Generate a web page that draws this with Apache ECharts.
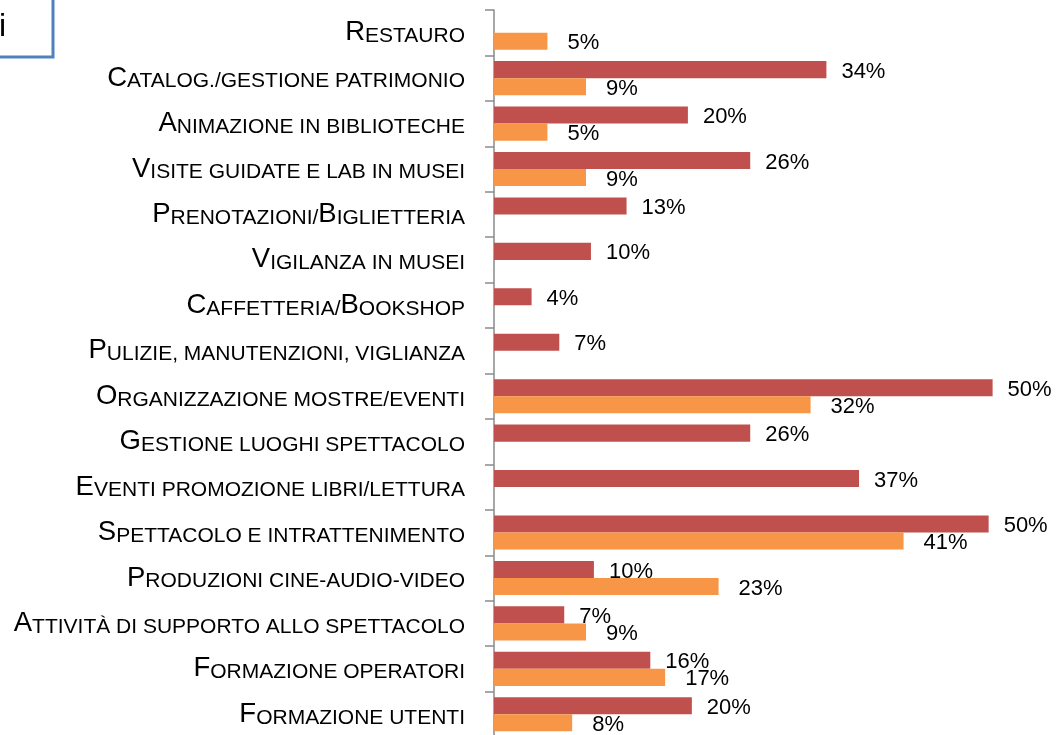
<!DOCTYPE html>
<html>
<head>
<meta charset="utf-8">
<script src="https://cdn.jsdelivr.net/npm/echarts@6/dist/echarts.min.js"></script>
<style>
  html, body { margin: 0; padding: 0; background: #fff; }
  #chart { width: 1057px; height: 735px; }
</style>
</head>
<body>
<div id="chart"></div>
<script>
// categories, top to bottom
const categories = [
  "Restauro",
  "Catalog./gestione patrimonio",
  "Animazione in biblioteche",
  "Visite guidate e lab in musei",
  "Prenotazioni/Biglietteria",
  "Vigilanza in musei",
  "Caffetteria/Bookshop",
  "Pulizie, manutenzioni, viglianza",
  "Organizzazione mostre/eventi",
  "Gestione luoghi spettacolo",
  "Eventi promozione libri/lettura",
  "Spettacolo e intrattenimento",
  "Produzioni cine-audio-video",
  "Attività di supporto allo spettacolo",
  "Formazione operatori",
  "Formazione utenti"
];

// percentages (labels show them rounded)
const redValues = [null, 33.6, 19.6, 25.9, 13.4, 9.8, 3.8, 6.6, 50.4, 25.9, 36.9, 50.0, 10.1, 7.1, 15.8, 20.0];
const orangeValues = [5.4, 9.3, 5.4, 9.3, null, null, null, null, 32.0, null, null, 41.4, 22.7, 9.3, 17.3, 7.9];

const font = "'Liberation Sans', Arial, sans-serif";

// fake small caps: capitals big, lowercase letters as smaller capitals
function smallCaps(txt) {
  let out = "";
  let cur = null;
  let buf = "";
  for (const ch of txt) {
    const isBig = ch !== ch.toLowerCase();
    const st = isBig ? "b" : (cur === null ? "s" : (/[a-zà-ù]/.test(ch) ? "s" : cur));
    if (st !== cur && buf) {
      out += "{" + cur + "|" + buf + "}";
      buf = "";
    }
    cur = st;
    buf += ch.toUpperCase();
  }
  if (buf) out += "{" + cur + "|" + buf + "}";
  return out;
}

const pct = (p) => Math.round(p.value) + "%";

const chart = echarts.init(document.getElementById("chart"));

chart.setOption({
  animation: false,
  grid: { left: 494, top: 10, width: 554, height: 727, outerBoundsMode: "none" },
  xAxis: { type: "value", min: 0, max: 56, show: false },
  yAxis: {
    type: "category",
    inverse: true,
    data: categories,
    axisLine: { show: true, lineStyle: { color: "#8a8a8a", width: 1.5 } },
    axisTick: { show: true, inside: false, length: 9, lineStyle: { color: "#8a8a8a", width: 1.5 } },
    axisLabel: {
      margin: 29,
      color: "#000",
      formatter: smallCaps,
      rich: {
        b: { fontFamily: font, fontSize: 27.5, color: "#000", verticalAlign: "bottom" },
        s: { fontFamily: font, fontSize: 21, color: "#000", verticalAlign: "bottom" }
      }
    }
  },
  series: [
    {
      name: "Serie 1",
      type: "bar",
      data: redValues,
      barGap: "0%",
      barCategoryGap: "25%",
      itemStyle: { color: "#C0504D" },
      label: {
        show: true, position: "right", distance: 15, offset: [0, 2],
        formatter: pct, fontFamily: font, fontSize: 22, color: "#000"
      }
    },
    {
      name: "Serie 2",
      type: "bar",
      data: orangeValues,
      itemStyle: { color: "#F79646" },
      label: {
        show: true, position: "right", distance: 20, offset: [0, 2],
        formatter: pct, fontFamily: font, fontSize: 22, color: "#000"
      }
    }
  ],
  graphic: [
    {
      type: "rect",
      shape: { x: -10, y: -10, width: 63, height: 67 },
      style: { fill: "#fff", stroke: "#4F81BD", lineWidth: 3 }
    },
    {
      type: "text",
      style: { text: "i", x: -1, y: 27, verticalAlign: "middle", fontFamily: font, fontSize: 32, fill: "#000" }
    }
  ]
});
</script>
</body>
</html>
